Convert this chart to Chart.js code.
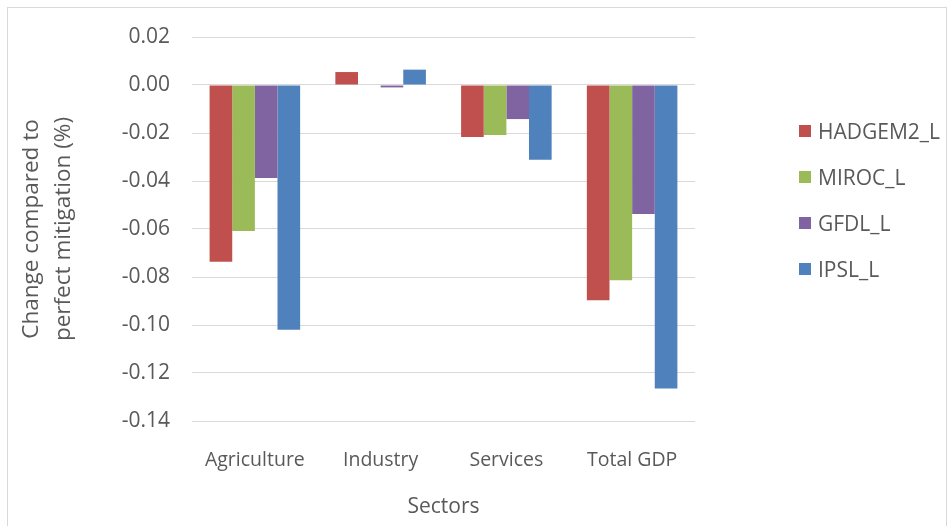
<!DOCTYPE html>
<html lang="en">
<head>
    <meta charset="UTF-8">
    <title>Sector change chart</title>
    <script src="https://cdn.jsdelivr.net/npm/chart.js"></script>
    <style>
        body {
            margin: 0;
            padding: 0;
            background: #fff;
            font-family: "Open Sans", Arial, sans-serif;
        }

        .frame {
            position: absolute;
            left: 7px;
            top: 7px;
            width: 938px;
            height: 530px;
            border: 1px solid #d9d9d9;
        }

        .wrap {
            position: absolute;
            left: 0;
            top: 0;
            width: 949px;
            height: 526px;
        }

        /* legend on the right */
        #legend {
            position: absolute;
            left: 799px;
            top: 119px;
            list-style: none;
            margin: 0;
            padding: 0;
        }

        #legend li {
            height: 46px;
            display: flex;
            align-items: flex-start;
            font-size: 21px;
            color: #595959;
            line-height: 24px;
        }

        #legend span {
            display: inline-block;
            width: 12px;
            height: 12px;
            margin: 6px 7px 0 0;
        }
    </style>
</head>
<body>
    <div class="frame"></div>
    <div class="wrap">
        <canvas id="chart" width="949" height="526"></canvas>
    </div>
    <ul id="legend"></ul>

    <script>
        const sectors = ['Agriculture', 'Industry', 'Services', 'Total GDP'];
        const seriesNames = ['HADGEM2_L', 'MIROC_L', 'GFDL_L', 'IPSL_L'];
        const hadgem = [-0.0736, 0.0054, -0.0217, -0.0897];
        const miroc = [-0.0608, 0.0, -0.0208, -0.0814];
        const gfdl = [-0.0388, -0.001, -0.0142, -0.0538];
        const ipsl = [-0.102, 0.0064, -0.0311, -0.1265];
        const colors = ['#C0504D', '#9BBB59', '#8064A2', '#4F81BD'];

        const yMin = -0.14, yMax = 0.02, yStep = 0.02;
        const yTitle = ['Change compared to', 'perfect mitigation (%)'];
        const xTitle = 'Sectors';

        const textColor = '#595959';
        const family = '"Open Sans", Arial, sans-serif';
        const font = { family: family, size: 21 };

        const values = [hadgem, miroc, gfdl, ipsl];

        const chart = new Chart(document.getElementById('chart'), {
            type: 'bar',
            data: {
                labels: sectors,
                datasets: seriesNames.map((name, i) => ({
                    label: name,
                    data: values[i],
                    backgroundColor: colors[i],
                    borderWidth: 0,
                    categoryPercentage: 0.72,
                    barPercentage: 1.0
                }))
            },
            options: {
                responsive: false,
                animation: false,
                layout: { padding: { top: 37, right: 254, bottom: 0, left: 0 } },
                plugins: {
                    legend: { display: false },
                    tooltip: { enabled: false }
                },
                scales: {
                    x: {
                        grid: { display: false },
                        border: { display: false },
                        ticks: { color: textColor, font: { family: family, size: 19.5 }, padding: 20 },
                        title: {
                            display: true,
                            text: xTitle,
                            color: textColor,
                            font: font,
                            padding: { top: 0, bottom: 6 }
                        },
                        afterFit: function(scale) { scale.height = 105; }
                    },
                    y: {
                        min: yMin,
                        max: yMax,
                        grid: { color: '#d9d9d9', lineWidth: 1, drawTicks: false },
                        border: { display: false },
                        ticks: {
                            stepSize: yStep,
                            color: textColor,
                            font: font,
                            padding: 22,
                            callback: v => v.toFixed(2)
                        },
                        title: {
                            display: true,
                            text: yTitle,
                            color: textColor,
                            font: { family: family, size: 22.5, lineHeight: 1.4 },
                            padding: { top: 16, bottom: 0 }
                        },
                        afterFit: function(scale) { scale.width = 192; }
                    }
                }
            }
        });

        // legend built from the series
        const legend = document.getElementById('legend');
        seriesNames.forEach((name, i) => {
            const li = document.createElement('li');
            const box = document.createElement('span');
            box.style.background = colors[i];
            li.appendChild(box);
            li.appendChild(document.createTextNode(name));
            legend.appendChild(li);
        });
    </script>
</body>
</html>
